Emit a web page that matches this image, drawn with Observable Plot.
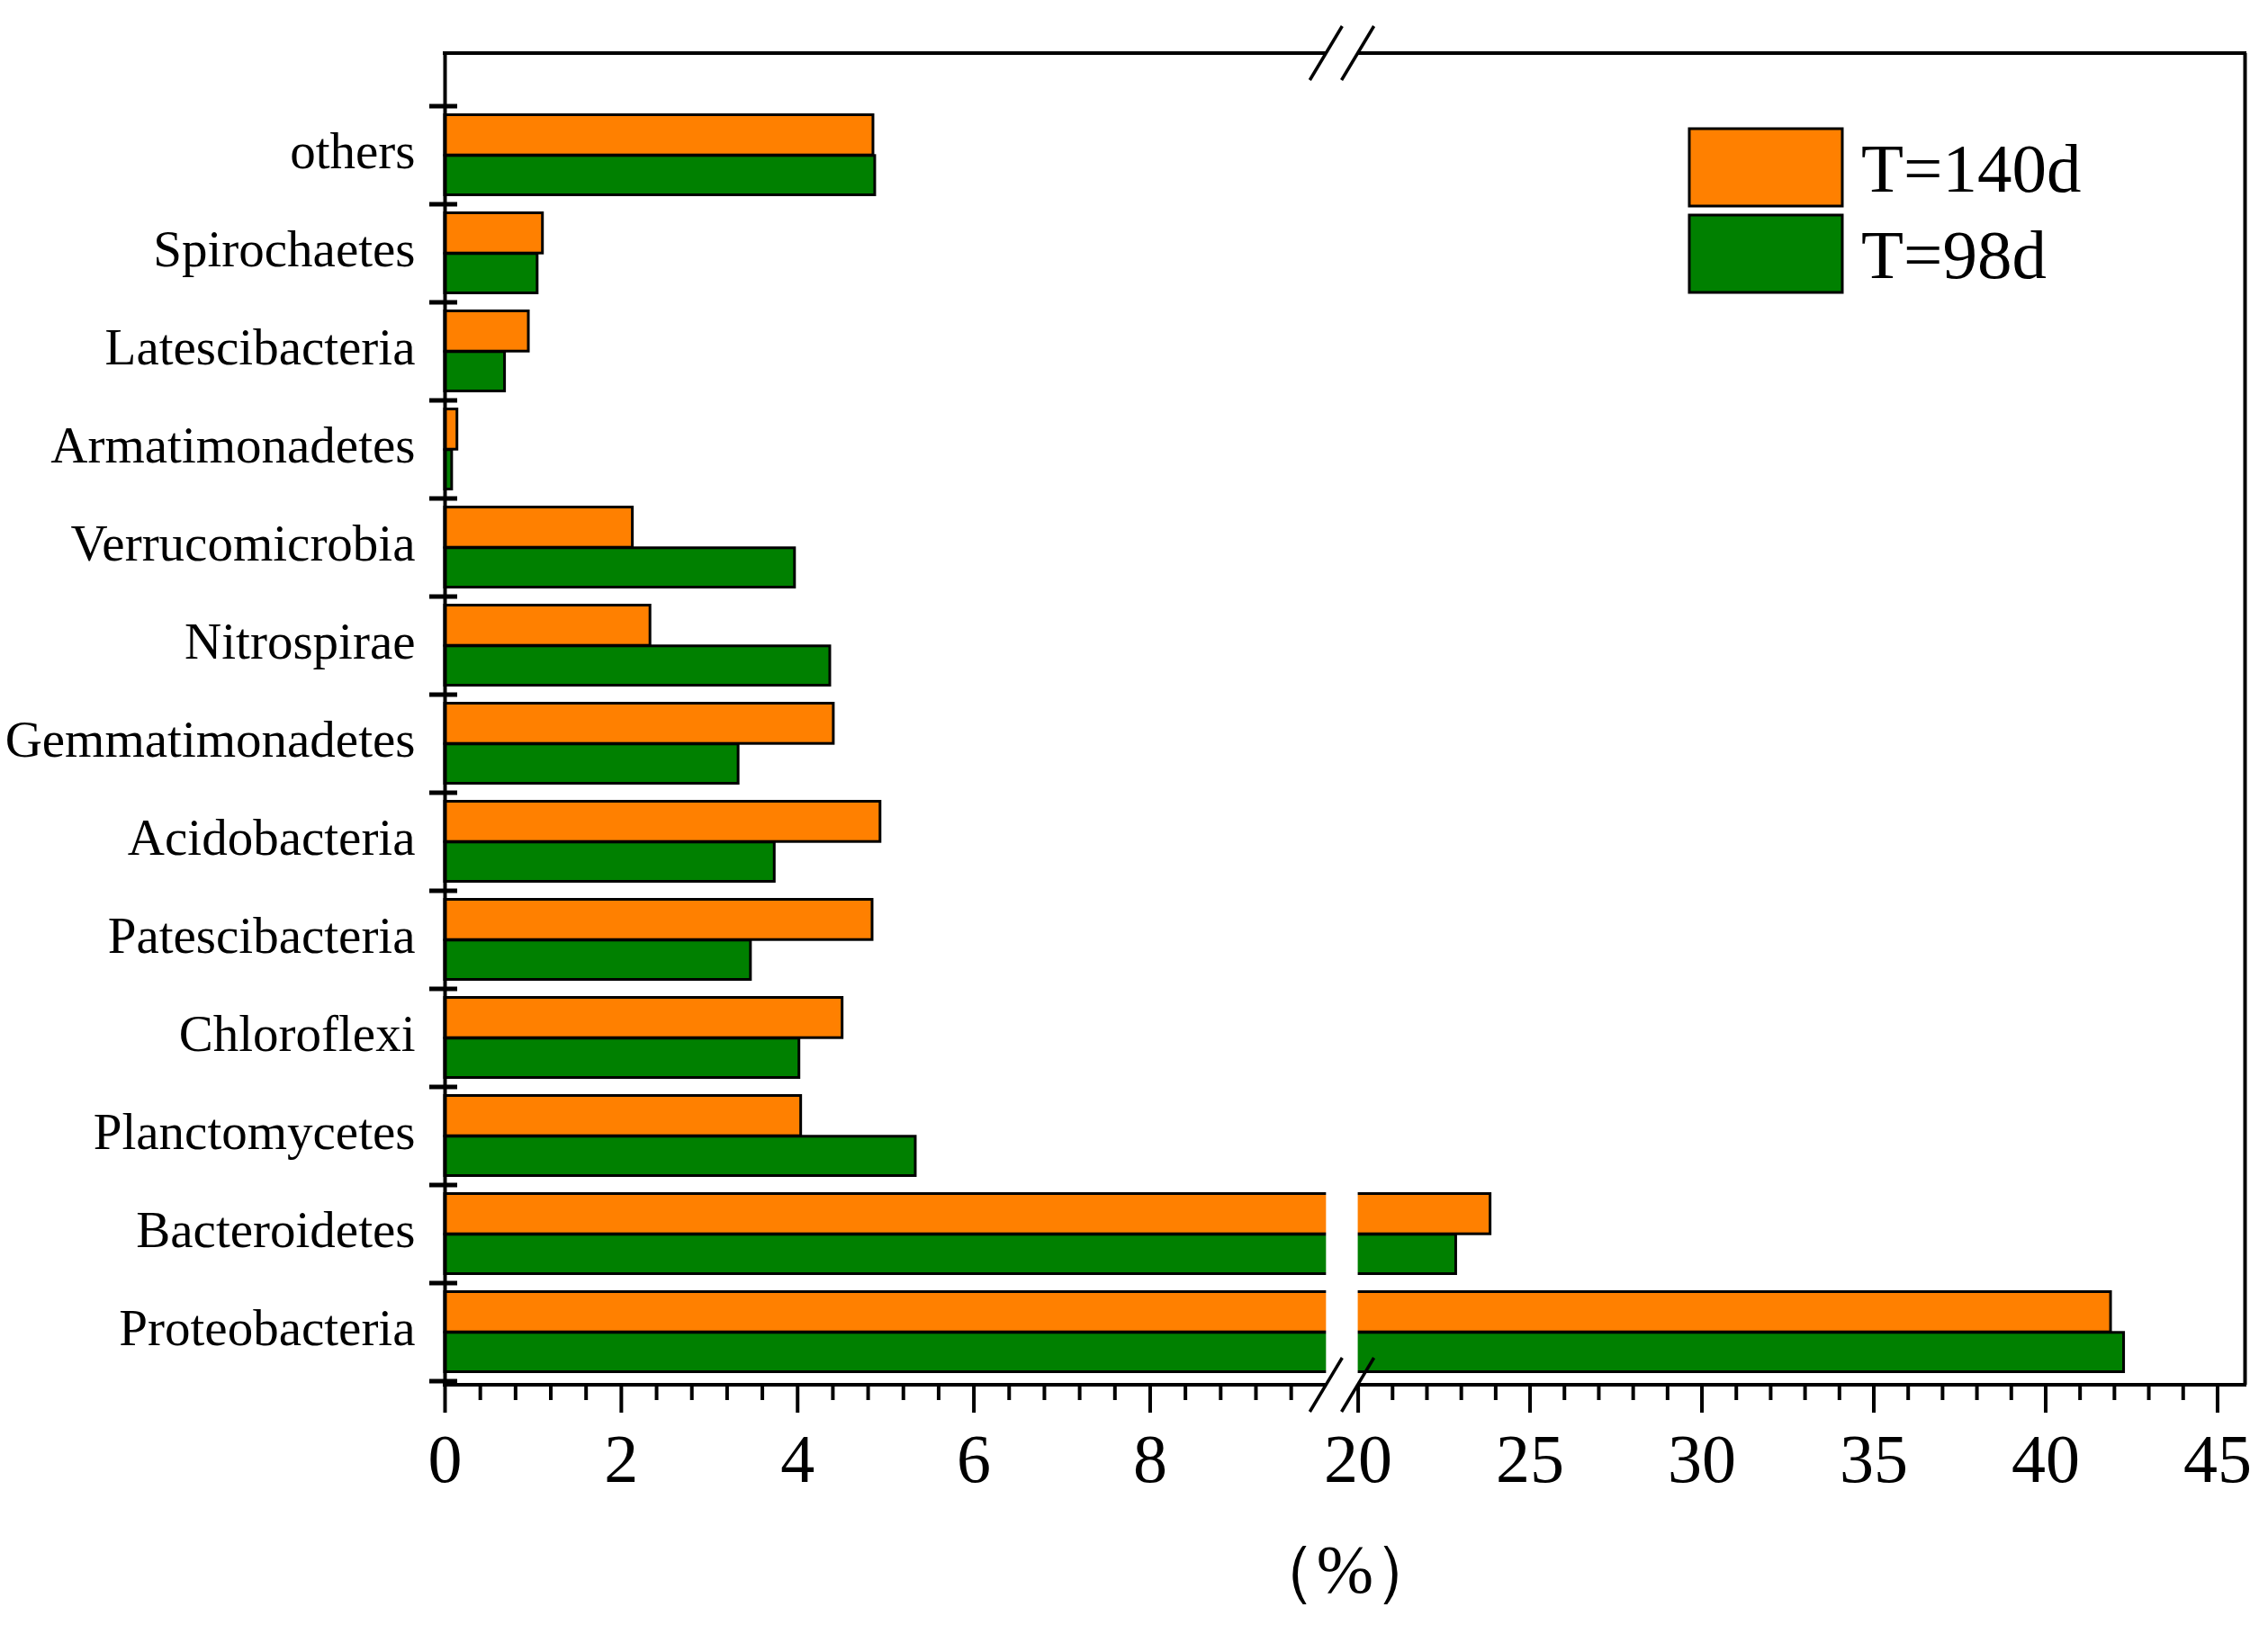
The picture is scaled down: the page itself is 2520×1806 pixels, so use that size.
<!DOCTYPE html>
<html>
<head>
<meta charset="utf-8">
<script src="https://cdn.jsdelivr.net/npm/d3@7"></script>
<script src="https://cdn.jsdelivr.net/npm/@observablehq/plot@0.6"></script>
<style>
  body { margin: 0; background: #fff; }
</style>
</head>
<body>
<div id="chart"></div>
<script>
// ---- data ----
const categories = ["others", "Spirochaetes", "Latescibacteria", "Armatimonadetes", "Verrucomicrobia",
  "Nitrospirae", "Gemmatimonadetes", "Acidobacteria", "Patescibacteria", "Chloroflexi",
  "Planctomycetes", "Bacteroidetes", "Proteobacteria"];
const seriesNames = ["T=140d", "T=98d"];
const seriesColors = ["#ff8000", "#008000"];
const t140 = [4.86, 1.11, 0.95, 0.14, 2.13, 2.33, 4.41, 4.94, 4.85, 4.51, 4.04, 23.85, 41.9];
const t98  = [4.88, 1.05, 0.68, 0.08, 3.97, 4.37, 3.33, 3.74, 3.47, 4.02, 5.34, 22.85, 42.28];
const lowTicks = [0, 2, 4, 6, 8];
const highTicks = [20, 25, 30, 35, 40, 45];
const axisTitle = "（%）";

// broken x axis: 0–10, then 20–45.8 compressed
const brk = {lo: 10, hi: 20, gap: 0.36, ratio: 0.39, max: 45.8};
const pos = v => v <= brk.lo ? v : brk.lo + brk.gap + (v - brk.hi) * brk.ratio;

const lowMinor = d3.range(1, 25).filter(k => k % 5 !== 0).map(k => k * 0.4);
const highMinor = d3.range(21, 45).filter(v => v % 5 !== 0);

const rows = categories.flatMap((c, i) => [
  {cat: c, series: seriesNames[0], v: t140[i]},
  {cat: c, series: seriesNames[1], v: t98[i]}
]);

const majorLabel = new Map([...lowTicks, ...highTicks].map(v => [pos(v), String(v)]));

function frameAndLegend(index, scales, values, dims) {
  const {x, y, color} = scales;
  const top = dims.marginTop, bottom = dims.height - dims.marginBottom;
  const left = x(0), right = x(pos(brk.max));
  const b1 = x(pos(brk.lo)), b2 = x(pos(brk.hi));
  const g = d3.create("svg:g").attr("stroke", "#000").attr("stroke-width", 4).attr("fill", "none");
  for (const yy of [top, bottom]) {
    g.append("line").attr("x1", left - 2).attr("x2", b1).attr("y1", yy).attr("y2", yy);
    g.append("line").attr("x1", b2).attr("x2", right + 2).attr("y1", yy).attr("y2", yy);
    for (const cx of [b1, b2]) {
      g.append("line").attr("x1", cx - 18).attr("y1", yy + 30).attr("x2", cx + 18).attr("y2", yy - 30)
        .attr("stroke-width", 3.5);
    }
  }
  const bw = typeof y.bandwidth === "function" ? y.bandwidth() : y.bandwidth;
  const edges = categories.map(c => y(c)).concat([y(categories[categories.length - 1]) + bw]);
  for (const e of edges) {
    g.append("line").attr("x1", left - 17).attr("x2", left + 14).attr("y1", e).attr("y2", e)
      .attr("stroke-width", 5);
  }
  seriesNames.forEach((s, i) => {
    const by = top + 84 + i * 96;
    g.append("rect").attr("x", right - 617).attr("y", by).attr("width", 170).attr("height", 86)
      .attr("fill", color ? color(s) : seriesColors[i]).attr("stroke-width", 3);
    g.append("text").attr("x", right - 426).attr("y", by + 43).attr("dy", "0.35em")
      .attr("fill", "#000").attr("stroke", "none").attr("text-anchor", "start")
      .attr("font-size", 77).text(s);
  });
  return g.node();
}

const chart = Plot.plot({
  width: 2520,
  height: 1806,
  marginLeft: 494,
  marginRight: 26,
  marginTop: 59,
  marginBottom: 267,
  style: {fontFamily: "'Liberation Serif', 'Times New Roman', serif", color: "#000", background: "#fff", overflow: "visible"},
  x: {domain: [0, pos(brk.max)], axis: null},
  y: {domain: categories, padding: 0, insetTop: 55, axis: null, label: null},
  color: {domain: seriesNames, range: seriesColors},
  marks: [
    Plot.barX(rows.filter(d => d.series === seriesNames[0]), {
      x1: 0, x2: d => pos(d.v), y: "cat", fill: "series",
      stroke: "#000", strokeWidth: 3, insetTop: 9.5, insetBottom: 54.8
    }),
    Plot.barX(rows.filter(d => d.series === seriesNames[1]), {
      x1: 0, x2: d => pos(d.v), y: "cat", fill: "series",
      stroke: "#000", strokeWidth: 3, insetTop: 54.8, insetBottom: 10.5
    }),
    Plot.rect([brk], {x1: d => pos(d.lo), x2: d => pos(d.hi), fill: "white"}),
    Plot.ruleX([0, pos(brk.max)], {strokeWidth: 4}),
    Plot.axisY({tickSize: 0, tickPadding: 33, fontSize: 57, dy: -4, label: null}),
    Plot.axisX([...lowMinor, ...highMinor].map(pos), {tickSize: 17, strokeWidth: 4, tickFormat: () => "", label: null}),
    Plot.axisX([...lowTicks, ...highTicks].map(pos), {
      tickSize: 31, tickPadding: 23, strokeWidth: 4, fontSize: 76,
      tickFormat: p => majorLabel.get(p), label: null
    }),
    frameAndLegend,
    Plot.text([axisTitle], {frameAnchor: "bottom", dy: 230, fontSize: 76, fill: "#000"})
  ]
});
document.getElementById("chart").appendChild(chart);
</script>
</body>
</html>
